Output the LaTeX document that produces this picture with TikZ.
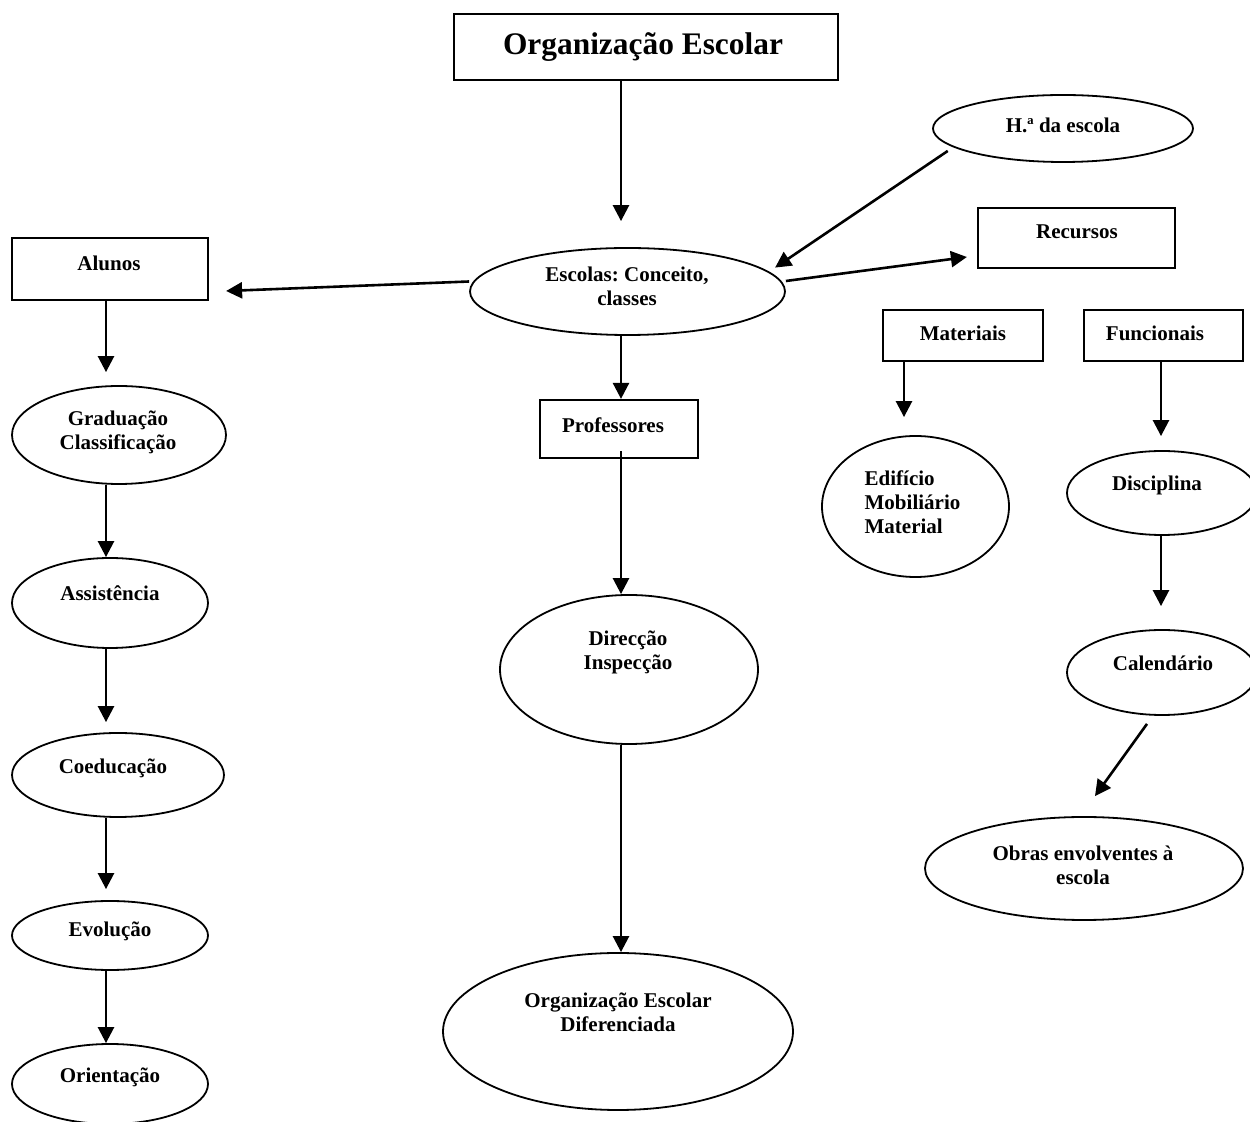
\documentclass[tikz,border=0pt]{standalone}
\usepackage{fontspec}
\setmainfont{Liberation Serif}
\usetikzlibrary{arrows.meta,shapes.geometric}
\frenchspacing

\tikzset{
  box/.style={draw, line width=1.1pt, rectangle, inner sep=0pt},
  oval/.style={draw, line width=0.9pt, ellipse, inner sep=0pt},
  lbl/.style={font=\fontsize{10.5}{12}\selectfont\bfseries, align=center, inner sep=0pt},
  arr/.style={line width=1.3pt, -{Triangle[width=8pt,length=8pt]}}
}

\begin{document}
\begin{tikzpicture}[x=0.5pt,y=-0.5pt]
\useasboundingbox (0,0) rectangle (1250,1122);
\clip (0,0) rectangle (1250,1122);

% title
\node[box, minimum width=192pt, minimum height=33pt] (title) at (646,47) {};
\node[lbl, font=\fontsize{15.7}{18}\selectfont\bfseries] (title-t) at (643,47) {Organização Escolar};

% central column
\node[oval, minimum width=157.5pt, minimum height=43.5pt] (esc) at (627.5,291.5) {};
\node[lbl] (esc-t) at (627,286) {Escolas: Conceito,\\classes};
\node[box, minimum width=79pt, minimum height=29pt] (prof) at (619,429) {};
\node[lbl] (prof-t) at (613,425) {Professores};
\node[oval, minimum width=129pt, minimum height=74.5pt] (dir) at (629,669.5) {};
\node[lbl] (dir-t) at (628,652) {Direcção\\Inspecção};
\node[oval, minimum width=175pt, minimum height=78.5pt] (ode) at (618,1031.5) {};
\node[lbl] (ode-t) at (618,1012) {Organização Escolar\\Diferenciada};

% left column
\node[box, minimum width=98pt, minimum height=31pt] (alu) at (110,269) {};
\node[lbl] (alu-t) at (109,263) {Alunos};
\node[oval, minimum width=107pt, minimum height=49pt] (grad) at (119,435) {};
\node[lbl] (grad-t) at (118,432) {Graduação\\Classificação};
\node[oval, minimum width=98pt, minimum height=45pt] (assi) at (110,603) {};
\node[lbl] (assi-t) at (110,593) {Assistência};
\node[oval, minimum width=106pt, minimum height=42pt] (coed) at (118,775) {};
\node[lbl] (coed-t) at (113,768) {Coeducação};
\node[oval, minimum width=98pt, minimum height=34.5pt] (evol) at (110,935.5) {};
\node[lbl] (evol-t) at (110,931) {Evolução};
\node[oval, minimum width=98pt, minimum height=40pt] (orie) at (110,1084) {};
\node[lbl] (orie-t) at (110,1077) {Orientação};

% right side
\node[oval, minimum width=130pt, minimum height=33.5pt] (hist) at (1063,128.5) {};
\node[lbl] (hist-t) at (1063,125) {H.ª da escola};
\node[box, minimum width=98.5pt, minimum height=30pt] (rec) at (1076.5,238) {};
\node[lbl] (rec-t) at (1077,232) {Recursos};
\node[box, minimum width=80pt, minimum height=25.5pt] (mat) at (963,335.5) {};
\node[lbl] (mat-t) at (963,333) {Materiais};
\node[box, minimum width=79.5pt, minimum height=25.5pt] (fun) at (1163.5,335.5) {};
\node[lbl] (fun-t) at (1155,333) {Funcionais};
\node[oval, minimum width=93.5pt, minimum height=70.5pt] (edi) at (915.5,506.5) {};
\node[lbl, align=left] (edi-t) at (912.5,502.5) {Edifício\\Mobiliário\\Material};
\node[oval, minimum width=95pt, minimum height=42pt] (dis) at (1162,493) {};
\node[lbl] (dis-t) at (1157,485) {Disciplina};
\node[oval, minimum width=95pt, minimum height=42.5pt] (cal) at (1162,672.5) {};
\node[lbl] (cal-t) at (1163,663) {Calendário};
\node[oval, minimum width=159pt, minimum height=51.5pt] (obr) at (1084,868.5) {};
\node[lbl] (obr-t) at (1083,865) {Obras envolventes à\\escola};

% connectors
\draw[arr] ([xshift=-12.5pt]title.south) -- ([xshift=-3.25pt]esc.north) [shorten >=13pt];
\draw[arr] ([yshift=5pt]esc.west) -- ([xshift=8.5pt,yshift=-11pt]alu.east);
\draw[arr] ([shift={(-5pt,-1pt)}]hist.191) -- ([shift={(3pt,2pt)}]esc.8);
\draw[arr] ([yshift=5.25pt]esc.east) -- ([xshift=-5pt,yshift=-9.5pt]rec.west);

\draw[arr, shorten >=6.5pt] ([xshift=-2pt]alu.south) -- ([xshift=-6.5pt]grad.north);
\draw[arr] ([xshift=-6.5pt]grad.south) -- ([xshift=-2pt]assi.north);
\draw[arr, shorten >=5pt] ([xshift=-2pt]assi.south) -- ([xshift=-6pt]coed.north);
\draw[arr, shorten >=5.5pt] ([xshift=-6pt]coed.south) -- ([xshift=-2pt]evol.north);
\draw[arr] ([xshift=-2pt]evol.south) -- ([xshift=-2pt]orie.north);

\draw[arr] ([xshift=-3.25pt]esc.south) -- ([xshift=1pt]prof.north);
\draw[arr] ([xshift=1pt,yshift=4pt]prof.south) -- ([xshift=-4pt]dir.north);
\draw[arr] ([xshift=-4pt]dir.south) -- ([xshift=1.5pt]ode.north);

\draw[arr, shorten >=9pt] ([xshift=-29.5pt]mat.south) -- ([xshift=-5.75pt]edi.north);
\draw[arr, shorten >=7pt] ([xshift=-1.25pt]fun.south) -- ([xshift=-0.5pt]dis.north);
\draw[arr, shorten >=11.5pt] ([xshift=-0.5pt]dis.south) -- ([xshift=-0.5pt]cal.north);
\draw[arr] ([shift={(-7.5pt,-4pt)}]cal.south) -- ([shift={(5.5pt,10pt)}]obr.north);
\end{tikzpicture}
\end{document}
